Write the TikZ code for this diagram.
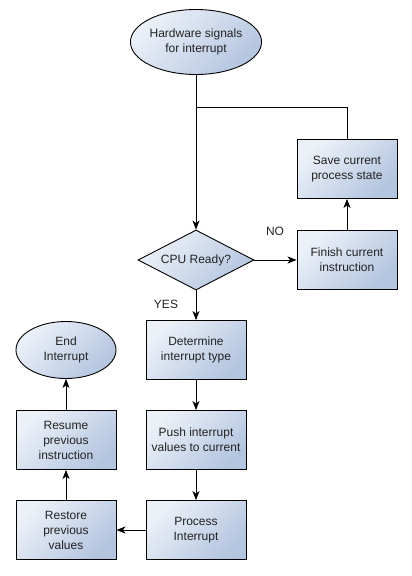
\documentclass[tikz,border=0pt]{standalone}
\usepackage{tikz}
\usepackage{xcolor}
\usepackage{fontspec}
\setmainfont{Liberation Sans}
\usetikzlibrary{shapes,arrows.meta,positioning,calc}
\definecolor{boxlight}{RGB}{236,241,248}
\definecolor{boxdark}{RGB}{180,197,224}
\definecolor{textgray}{RGB}{34,34,34}

\begin{document}
\begin{tikzpicture}[x=1pt, y=-1pt,
  every node/.style={font=\fontsize{12}{15}\selectfont, text=textgray, align=center},
  procbox/.style={rectangle, draw, line width=0.9pt, top color=boxlight, bottom color=boxdark, shading angle=45, minimum width=100pt, minimum height=59pt, inner sep=1pt},
  termbox/.style={ellipse, draw, line width=0.9pt, top color=boxlight, bottom color=boxdark, shading angle=45, inner sep=0pt},
  decbox/.style={diamond, draw, line width=0.9pt, top color=boxlight, bottom color=boxdark, shading angle=45, aspect=2, inner sep=0pt, minimum width=116pt, minimum height=60pt},
  flow/.style={line width=0.9pt, -{Stealth[length=9pt,width=7pt,inset=2.5pt]}},
  link/.style={line width=0.9pt}]
\useasboundingbox (0,0) rectangle (412,576);

\node[termbox, minimum width=122pt, minimum height=65pt] (hw) at (196,42) {Hardware signals\\for interrupt};
\node[decbox] (ready) at (196,260) {CPU Ready?};
\node[procbox] (finish) at (347,260) {Finish current\\instruction};
\node[procbox] (save) at (347,169) {Save current\\process state};
\node[procbox] (determ) at (196,350) {Determine\\interrupt type};
\node[procbox] (push) at (196,440) {Push interrupt\\values to current};
\node[procbox] (process) at (196,530) {Process\\Interrupt};
\node[procbox] (restore) at (66,530) {Restore\\previous\\values};
\node[procbox] (resume) at (66,440) {Resume\\previous\\instruction};
\node[termbox, minimum width=100pt, minimum height=57pt] (endint) at (66,350) {End\\Interrupt};
\coordinate (join) at (196,107);

\node (no) at (275,231) {NO};
\node (yes) at (166,304) {YES};

\draw[flow] (hw) -- (ready);
\draw[link] (save.north) |- (join);
\draw[flow] (ready) -- (finish);
\draw[flow] (finish) -- (save);
\draw[flow] (ready) -- (determ);
\draw[flow] (determ) -- (push);
\draw[flow] (push) -- (process);
\draw[flow] (process) -- (restore);
\draw[flow] (restore) -- (resume);
\draw[flow] (resume) -- (endint);
\end{tikzpicture}
\end{document}
